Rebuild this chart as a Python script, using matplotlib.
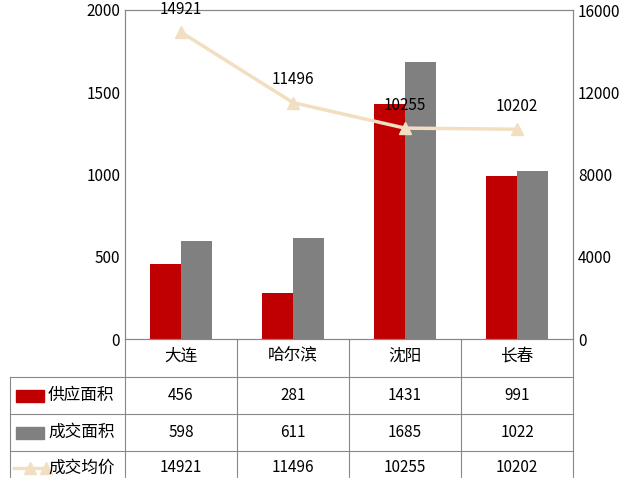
import matplotlib.pyplot as plt
from matplotlib.lines import Line2D
from matplotlib.patches import Rectangle
import numpy as np

plt.rcParams["font.family"] = "Noto Sans CJK SC"

cities = ["大连", "哈尔滨", "沈阳", "长春"]
supply = [456, 281, 1431, 991]
deal = [598, 611, 1685, 1022]
price = [14921, 11496, 10255, 10202]
row_names = ["供应面积", "成交面积", "成交均价"]

RED = "#C00000"
GRAY = "#808080"
BEIGE = "#F2DEC0"
W, H = 637, 478

fig = plt.figure(figsize=(6.37, 4.78), dpi=100)
ax = fig.add_axes([125 / W, 1 - 339 / H, 448 / W, 329 / H])
ax2 = ax.twinx()

x = np.arange(len(cities))
bw = 0.28
ax.bar(x - bw / 2, supply, bw, color=RED, zorder=2)
ax.bar(x + bw / 2, deal, bw, color=GRAY, zorder=2)
ax.set_xlim(-0.5, len(cities) - 0.5)
ax.set_ylim(0, 2000)
ax.set_yticks(range(0, 2001, 500))
ax.set_xticks(x)
ax.set_xticklabels(cities, fontsize=12)
ax.tick_params(axis="x", length=0, pad=6)
ax.tick_params(axis="y", labelsize=11, length=0)

ax2.plot(x, price, color=BEIGE, lw=2.5, marker="^", markersize=8, zorder=3)
for xi, p in zip(x, price):
    ax2.text(xi, p + 700, str(p), ha="center", va="bottom", fontsize=11)
ax2.set_ylim(0, 16000)
ax2.set_yticks(range(0, 16001, 4000))
ax2.tick_params(axis="y", labelsize=11, length=0)

for a in (ax, ax2):
    for s in a.spines.values():
        s.set_color("#888888")
        s.set_linewidth(0.8)

# data table below the plot
lc = "#888888"
def fx(px):
    return px / W
def fy(py):
    return 1 - py / H

cols = [125, 237, 349, 461, 573]
rows = [377, 414, 451, 490]
for c in cols:
    fig.add_artist(Line2D([fx(c), fx(c)], [fy(339), fy(478)], color=lc, lw=0.8))
fig.add_artist(Line2D([fx(10), fx(10)], [fy(377), fy(478)], color=lc, lw=0.8))
for r in rows[:3]:
    fig.add_artist(Line2D([fx(10), fx(573)], [fy(r), fy(r)], color=lc, lw=0.8))

vals = [supply, deal, price]
for i, (name, row) in enumerate(zip(row_names, vals)):
    yc = (rows[i] + rows[i + 1]) / 2 if i < 2 else 468
    if i < 2:
        fig.add_artist(Rectangle((fx(16), fy(yc + 6)), fx(28), 12 / H,
                                 color=[RED, GRAY][i]))
    else:
        fig.add_artist(Line2D([fx(14), fx(46)], [fy(yc), fy(yc)], color=BEIGE, lw=2.5,
                              marker="^", markersize=8, markevery=[1]))
        fig.add_artist(Line2D([fx(30)], [fy(yc)], color=BEIGE, marker="^", markersize=8))
    fig.text(fx(48), fy(yc), name, ha="left", va="center", fontsize=12)
    for j, v in enumerate(row):
        fig.text(fx((cols[j] + cols[j + 1]) / 2), fy(yc), str(v),
                 ha="center", va="center", fontsize=11)

fig.savefig("out.png", dpi=100)
